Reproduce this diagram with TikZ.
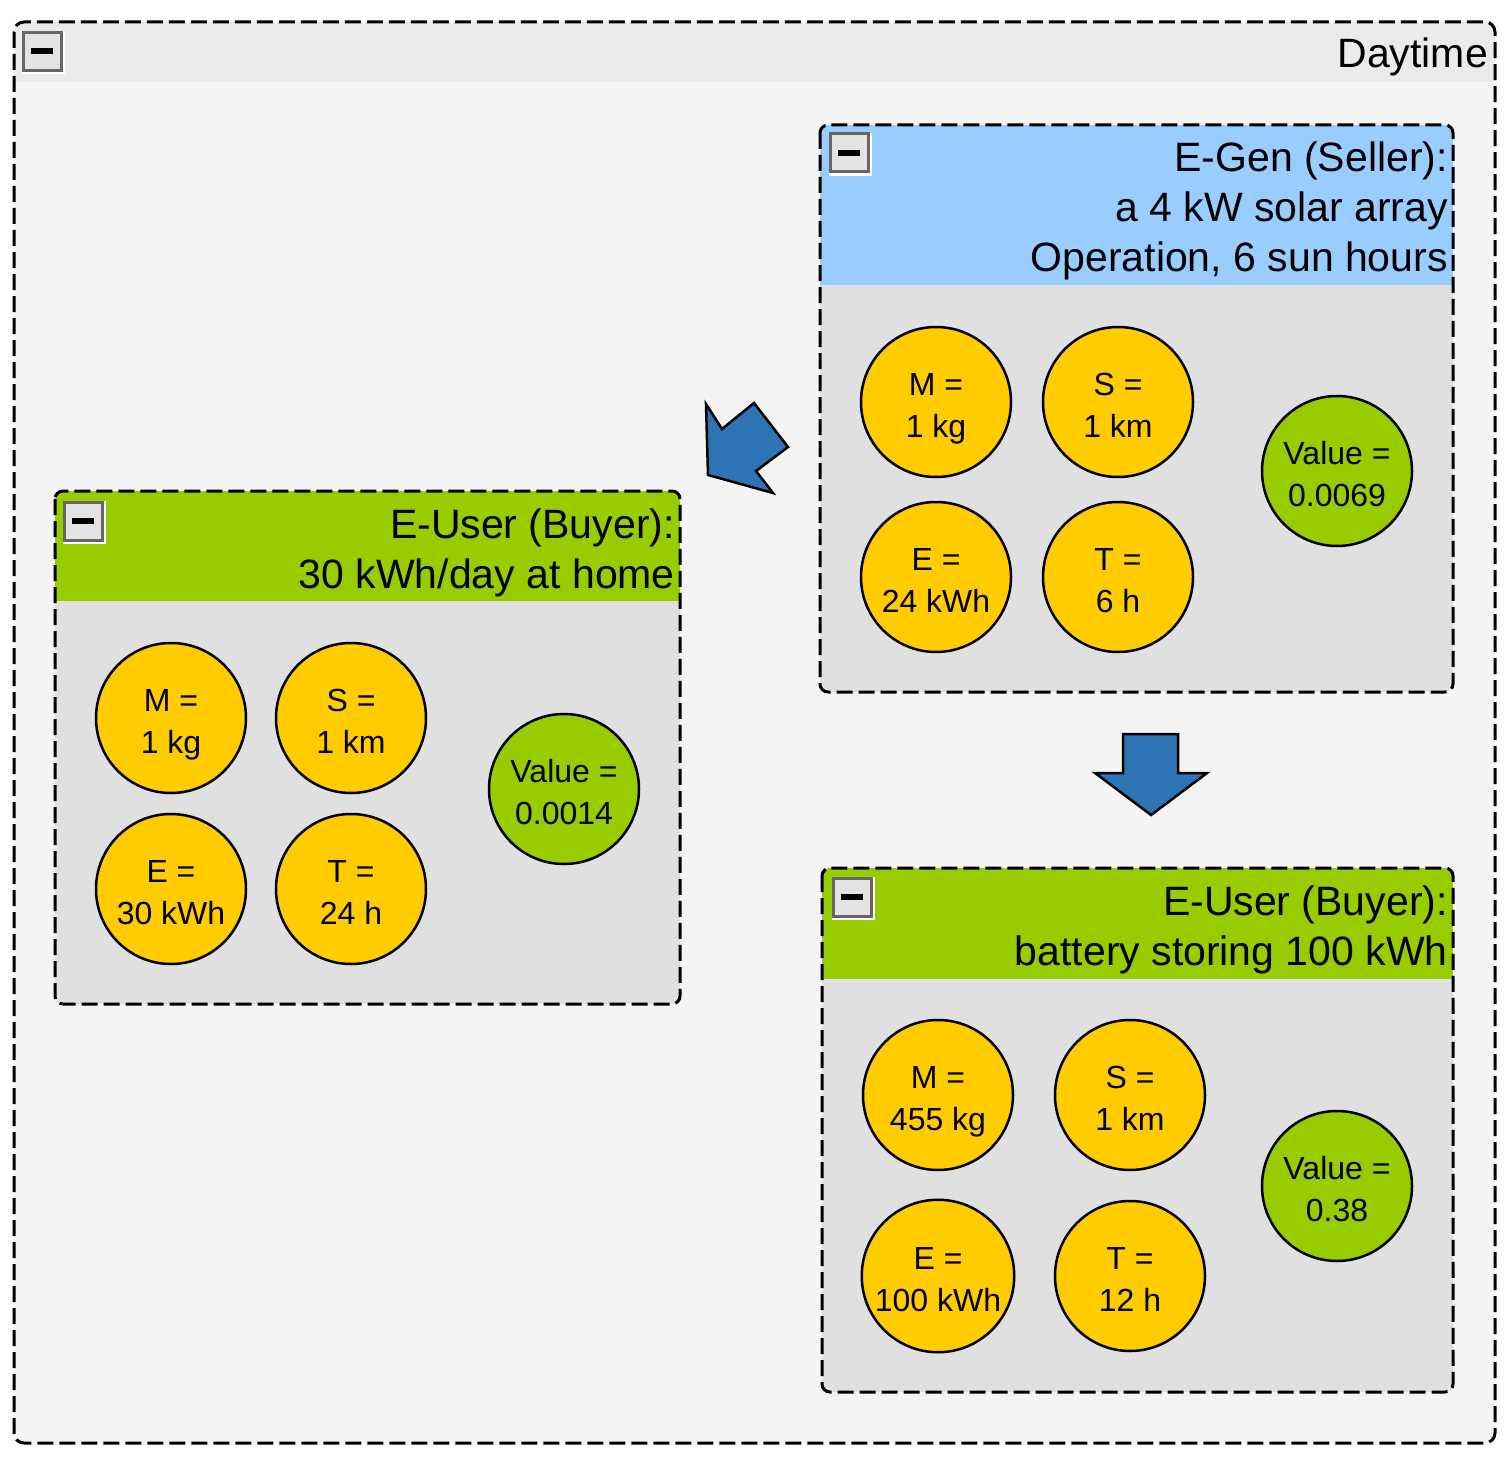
\documentclass[tikz,border=0pt]{standalone}
\usepackage{fontspec}
\setmainfont{Liberation Sans}
\definecolor{outerhead}{HTML}{EBEBEB}
\definecolor{outerbody}{HTML}{F4F4F4}
\definecolor{innerbody}{HTML}{E0E0E0}
\definecolor{genblue}{HTML}{99CCFF}
\definecolor{usergreen}{HTML}{99CC00}
\definecolor{qtyyellow}{HTML}{FFCC00}
\definecolor{flowblue}{HTML}{2E74B5}
\definecolor{btnedge}{HTML}{666666}
\definecolor{btnfill}{HTML}{E3E3E3}
\tikzset{
  frameline/.style={draw=black, line width=3pt, dash pattern=on 16pt off 6pt},
  qty/.style={circle, draw=black, line width=2.5pt, fill=qtyyellow, minimum size=150pt,
    inner sep=0pt, align=center, font=\fontsize{32}{42}\selectfont},
  worth/.style={qty, fill=usergreen},
  headtext/.style={inner sep=0pt, align=right, anchor=north east,
    font=\fontsize{41}{50}\selectfont},
  flow/.style={fill=flowblue, draw=black, line width=2.5pt, line join=miter},
  minusbtn/.pic={
    \fill[white] (-20,-20) rectangle (23,23);
    \filldraw[draw=btnedge, fill=btnfill, line width=3pt] (-19,-19) rectangle (19,19);
    \fill[black] (-11,-3) rectangle (11,3);
  }
}
% two-line quantity text with fixed line heights, so every circle reads alike
\newcommand{\twoline}[2]{\rule{0pt}{36pt}#1\\#2\rule[-8pt]{0pt}{8pt}}
% a collapsible group: body, coloured title band, dashed frame
\newcommand{\groupbox}[6]{% #1 x0, #2 y0, #3 x1, #4 y1, #5 band bottom, #6 band colour
  \fill[innerbody, rounded corners=8pt] (#1,#2) rectangle (#3,#4);
  \begin{scope}
    \clip[rounded corners=8pt] (#1,#2) rectangle (#3,#4);
    \fill[#6] (#1,#2) rectangle (#3,#5);
  \end{scope}
  \draw[frameline, rounded corners=8pt] (#1,#2) rectangle (#3,#4);
}
\begin{document}
\begin{tikzpicture}[x=1pt, y=-1pt]
\useasboundingbox (0,0) rectangle (1510,1458);
\fill[white] (0,0) rectangle (1510,1458);

% outer "Daytime" group
\fill[outerbody, rounded corners=10pt] (14,22) rectangle (1495,1443);
\begin{scope}
  \clip[rounded corners=10pt] (14,22) rectangle (1495,1443);
  \fill[outerhead] (14,22) rectangle (1495,82);
\end{scope}
\draw[frameline, rounded corners=10pt] (14,22) rectangle (1495,1443);
\pic at (42,51.5) {minusbtn};
\node[inner sep=0pt, anchor=base east, font=\fontsize{41}{50}\selectfont] (day) at (1488,68) {Daytime};

% seller group
\groupbox{820}{125}{1453}{692}{285}{genblue}
\pic at (849,153) {minusbtn};
\node[headtext] (genhead) at (1448,142) {E-Gen (Seller):\\a 4 kW solar array\\Operation, 6 sun hours};
\node[qty] (gm) at (936,402) {\twoline{M =}{1 kg}};
\node[qty] (gs) at (1118,402) {\twoline{S =}{1 km}};
\node[qty] (ge) at (936,577) {\twoline{E =}{24 kWh}};
\node[qty] (gt) at (1118,577) {\twoline{T =}{6 h}};
\node[worth] (gv) at (1337,471) {\twoline{Value =}{0.0069}};

% home buyer group
\groupbox{55}{491}{680}{1004}{601}{usergreen}
\pic at (83,521) {minusbtn};
\node[headtext] (homehead) at (675,509) {E-User (Buyer):\\30 kWh/day at home};
\node[qty] (hm) at (171,718) {\twoline{M =}{1 kg}};
\node[qty] (hs) at (351,718) {\twoline{S =}{1 km}};
\node[qty] (he) at (171,889) {\twoline{E =}{30 kWh}};
\node[qty] (ht) at (351,889) {\twoline{T =}{24 h}};
\node[worth] (hv) at (564,789) {\twoline{Value =}{0.0014}};

% battery buyer group
\groupbox{822}{868}{1453}{1392}{979}{usergreen}
\pic at (852,897) {minusbtn};
\node[headtext] (bathead) at (1448,886) {E-User (Buyer):\\battery storing 100 kWh};
\node[qty] (bm) at (938,1095) {\twoline{M =}{455 kg}};
\node[qty] (bs) at (1130,1095) {\twoline{S =}{1 km}};
\node[qty] (be) at (938,1276) {\twoline{E =}{100 kWh}};
\node[qty] (bt) at (1130,1276) {\twoline{T =}{12 h}};
\node[worth] (bv) at (1337,1186) {\twoline{Value =}{0.38}};

% energy flow arrows
\filldraw[flow] (706,404) -- (722,429) -- (754,403) -- (788,447) -- (756,471)
  -- (773,493) -- (708,475) -- cycle;
\filldraw[flow] (1123,734) -- (1178,734) -- (1178,773) -- (1207,773) -- (1151,815)
  -- (1095,773) -- (1123,773) -- cycle;
\end{tikzpicture}
\end{document}
